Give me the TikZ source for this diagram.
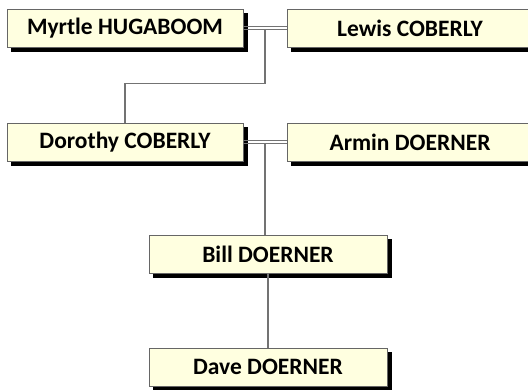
\documentclass[tikz,border=0pt]{standalone}
\usepackage{fontspec}
\setmainfont{Carlito}
\usetikzlibrary{calc}
\begin{document}
\begin{tikzpicture}[x=1pt,y=-1pt,
  person/.style={draw=gray!80!black, line width=0.8pt, fill={rgb,255:red,255;green,255;blue,224},
    minimum width=236pt, minimum height=38pt, inner sep=0pt,
    font=\bfseries\fontsize{23.5}{26}\selectfont,
    preaction={draw=black, fill=black, transform canvas={xshift=4.5pt, yshift=-4.5pt}}},
  link/.style={draw=gray!90!black, line width=1.3pt}]
\useasboundingbox (0,0) rectangle (528,389);
\node[person] (myrtle) at (125,28) {Myrtle HUGABOOM};
\node[person, minimum width=246pt] (lewis) at (410,28) {Lewis COBERLY};
\node[person] (dorothy) at (125,142) {Dorothy COBERLY};
\node[person, minimum width=246pt] (armin) at (410,142) {Armin DOERNER};
\node[person, minimum width=238pt] (bill) at (268,254) {Bill DOERNER};
\node[person, minimum width=238pt] (dave) at (268,367) {Dave DOERNER};
% marriage double lines
\draw[link] ([yshift=-1.7pt]myrtle.east) -- ([yshift=-1.7pt]lewis.west);
\draw[link] ([yshift=1.7pt]myrtle.east) -- ([yshift=1.7pt]lewis.west);
\draw[link] ([yshift=-1.7pt]dorothy.east) -- ([yshift=-1.7pt]armin.west);
\draw[link] ([yshift=1.7pt]dorothy.east) -- ([yshift=1.7pt]armin.west);
% descent
\coordinate (m1) at ($(myrtle.east)!0.5!(lewis.west)+(0,1.7)$);
\draw[link] (m1) -- ++(0,54) -| (dorothy.north);
\coordinate (m2) at ($(dorothy.east)!0.5!(armin.west)+(0,1.7)$);
\draw[link] (m2) -- (m2 |- bill.north);
\draw[link] (bill.south) -- (dave.north);
\end{tikzpicture}
\end{document}
